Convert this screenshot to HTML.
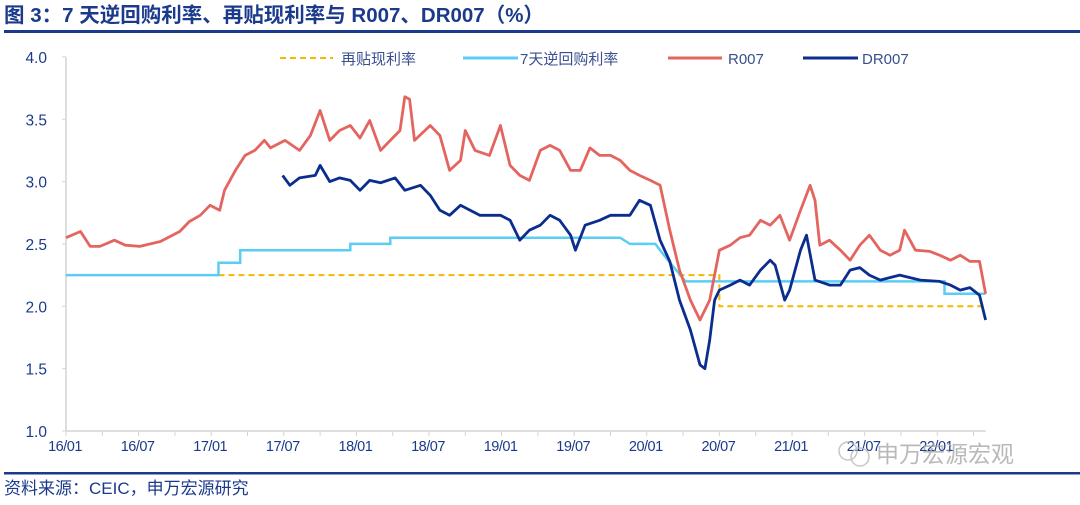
<!DOCTYPE html>
<html><head><meta charset="utf-8"><style>
body{margin:0;background:#fff;width:1080px;height:500px;overflow:hidden;font-family:"Liberation Sans","Noto Sans CJK SC",sans-serif}
</style></head><body>
<svg width="1080" height="500" xmlns="http://www.w3.org/2000/svg" font-family="Liberation Sans, Noto Sans CJK SC, sans-serif">
<text x="4" y="22" font-size="20.5" font-weight="bold" fill="#1b3a8c">图 3：7 天逆回购利率、再贴现利率与 R007、DR007（%）</text>
<rect x="4" y="30" width="1076" height="3" fill="#1b3a8c"/>
<rect x="4" y="472" width="1076" height="2.5" fill="#1b3a8c"/>
<text x="4" y="494" font-size="17" fill="#1b3a8c">资料来源：CEIC，申万宏源研究</text>
<g id="axes"></g>
<g id="series"></g>
<g>
<line x1="280" y1="58" x2="333" y2="58" stroke="#f5b800" stroke-width="2" stroke-dasharray="6,4"/>
<text x="341" y="64" font-size="15" fill="#3a4f8f">再贴现利率</text>
<line x1="463" y1="58" x2="518" y2="58" stroke="#5bcdf4" stroke-width="3"/>
<text x="520" y="64" font-size="15" fill="#3a4f8f">7天逆回购利率</text>
<line x1="668" y1="58" x2="722" y2="58" stroke="#e46560" stroke-width="3"/>
<text x="728" y="64" font-size="15" fill="#3a4f8f">R007</text>
<line x1="803" y1="58" x2="858" y2="58" stroke="#0b2d8e" stroke-width="3"/>
<text x="862" y="64" font-size="15" fill="#3a4f8f">DR007</text>
</g>
<g opacity="0.8">
<circle cx="848" cy="451" r="9" fill="none" stroke="#b8b8b8" stroke-width="1.5"/>
<circle cx="860" cy="457" r="9" fill="none" stroke="#b8b8b8" stroke-width="1.5"/>
<text x="876" y="462" font-size="23" fill="#a8a8a8">申万宏源宏观</text>
</g>
</svg>
<script>
const yTicks=[1.0,1.5,2.0,2.5,3.0,3.5,4.0];
const xTickLabels=["16/01","16/07","17/01","17/07","18/01","18/07","19/01","19/07","20/01","20/07","21/01","21/07","22/01"];
const r007Months=[0,1.2,2,2.8,4,4.9,6.1,7.8,9.4,10.2,11.1,11.9,12.7,13.1,14,14.8,15.6,16.4,16.9,18.1,19.3,20.2,21,21.8,22.6,23.5,24.3,25.1,26,26.8,27.6,28,28.4,28.8,30.1,30.9,31.7,32.6,33,33.8,35,35.9,36.7,37.5,38.3,39.2,40,40.8,41.7,42.5,43.3,44.1,45,45.8,46.6,47.4,48.3,49.1,49.9,50.7,51.6,52.4,53.2,54,54.9,55.7,56.5,57.4,58.2,59,59.8,60.7,61.5,61.9,62.3,63.1,64,64.8,65.6,66.4,67.3,68.1,68.9,69.3,70.2,71.4,72.2,73.1,73.9,74.7,75.5,76];
const r007Values=[2.55,2.60,2.48,2.48,2.53,2.49,2.48,2.52,2.60,2.68,2.73,2.81,2.77,2.93,3.09,3.21,3.25,3.33,3.27,3.33,3.25,3.37,3.57,3.33,3.41,3.45,3.35,3.49,3.25,3.33,3.41,3.68,3.66,3.33,3.45,3.37,3.09,3.17,3.41,3.25,3.21,3.45,3.13,3.05,3.01,3.25,3.29,3.25,3.09,3.09,3.27,3.21,3.21,3.17,3.09,3.05,3.01,2.97,2.61,2.29,2.05,1.89,2.05,2.45,2.49,2.55,2.57,2.69,2.65,2.73,2.53,2.77,2.97,2.85,2.49,2.53,2.45,2.37,2.49,2.57,2.45,2.41,2.45,2.61,2.45,2.44,2.41,2.37,2.41,2.36,2.36,2.10];
const dr007Months=[17.9,18.5,19.3,20.6,21,21.8,22.6,23.5,24.3,25.1,26,27.2,28,29.3,30.1,30.9,31.7,32.6,33.4,34.2,35.9,36.7,37.5,38.3,39.2,40,40.8,41.7,42.1,42.9,44.1,45,46.6,47.4,48.3,49.1,49.9,50.7,51.6,52.4,52.8,53.2,53.6,54,54.9,55.7,56.5,57.4,58.2,58.6,59.4,59.8,60.7,61.2,61.9,63.1,64,64.8,65.6,66.4,67.3,68.9,70.6,72.2,73.1,73.9,74.7,75.5,76];
const dr007Values=[3.05,2.97,3.03,3.05,3.13,3.00,3.03,3.01,2.93,3.01,2.99,3.03,2.93,2.97,2.89,2.77,2.73,2.81,2.77,2.73,2.73,2.69,2.53,2.61,2.65,2.73,2.69,2.57,2.45,2.65,2.69,2.73,2.73,2.85,2.81,2.53,2.36,2.05,1.81,1.53,1.50,1.73,2.05,2.13,2.17,2.21,2.17,2.29,2.37,2.33,2.05,2.13,2.45,2.57,2.21,2.17,2.17,2.29,2.31,2.25,2.21,2.25,2.21,2.20,2.17,2.13,2.15,2.09,1.89];
const repoMonths=[0,12.6,12.6,14.4,14.4,23.5,23.5,26.8,26.8,45.8,46.6,48.7,49.5,51.2,72.6,72.6,76];
const repoValues=[2.25,2.25,2.35,2.35,2.45,2.45,2.5,2.5,2.55,2.55,2.5,2.5,2.4,2.2,2.2,2.1,2.1];
const discountMonths=[12.6,54,54,76];
const discountValues=[2.25,2.25,2.0,2.0];

const NS="http://www.w3.org/2000/svg";
const X0=66,MPX=12.1,Y0=431,YPX=124.7;
const xs=m=>X0+m*MPX;
const ys=v=>Y0-(v-1)*YPX;
function mk(tag,attrs,parent){const e=document.createElementNS(NS,tag);for(const k in attrs)e.setAttribute(k,attrs[k]);parent.appendChild(e);return e;}
const axes=document.getElementById('axes'),series=document.getElementById('series');
let yl=mk('line',{x1:X0,y1:ys(4),x2:X0,y2:Y0,stroke:'#d4d4d4','stroke-width':1.5},axes);


let xl=mk('line',{x1:X0,y1:Y0,x2:xs(76),y2:Y0,stroke:'#d4d4d4','stroke-width':1.5},axes);


yTicks.forEach(v=>{
  const t=mk('line',{x1:X0-4,y1:ys(v),x2:X0,y2:ys(v),stroke:'#d4d4d4'},axes);
  
  
  const l=mk('text',{x:47,y:ys(v)+6,'font-size':15.5,fill:'#1b3a8c','text-anchor':'end'},axes);
  l.textContent=v.toFixed(1);
  
  
});
for(let m=0;m<=76;m+=3){
  const t=mk('line',{x1:xs(m),y1:Y0,x2:xs(m),y2:Y0+5,stroke:'#d4d4d4'},axes);
  
  
}
xTickLabels.forEach((s,i)=>{
  const l=mk('text',{x:xs(i*6)-1,y:451,'font-size':14.5,fill:'#1b3a8c','text-anchor':'middle','letter-spacing':'-0.5'},axes);
  l.textContent=s;
  
  
});
function pts(ms,vs){return ms.map((m,i)=>xs(m).toFixed(1)+','+ys(vs[i]).toFixed(1)).join(' ');}
let p1=mk('polyline',{points:pts(discountMonths,discountValues),fill:'none',stroke:'#f5b800','stroke-width':2,'stroke-dasharray':'6,4'},series);


let p2=mk('polyline',{points:pts(repoMonths,repoValues),fill:'none',stroke:'#5bcdf4','stroke-width':2.5},series);


let p3=mk('polyline',{points:pts(r007Months,r007Values),fill:'none',stroke:'#e46560','stroke-width':2.8,'stroke-linejoin':'round'},series);


let p4=mk('polyline',{points:pts(dr007Months,dr007Values),fill:'none',stroke:'#0b2d8e','stroke-width':2.8,'stroke-linejoin':'round'},series);


</script>
</body></html>
